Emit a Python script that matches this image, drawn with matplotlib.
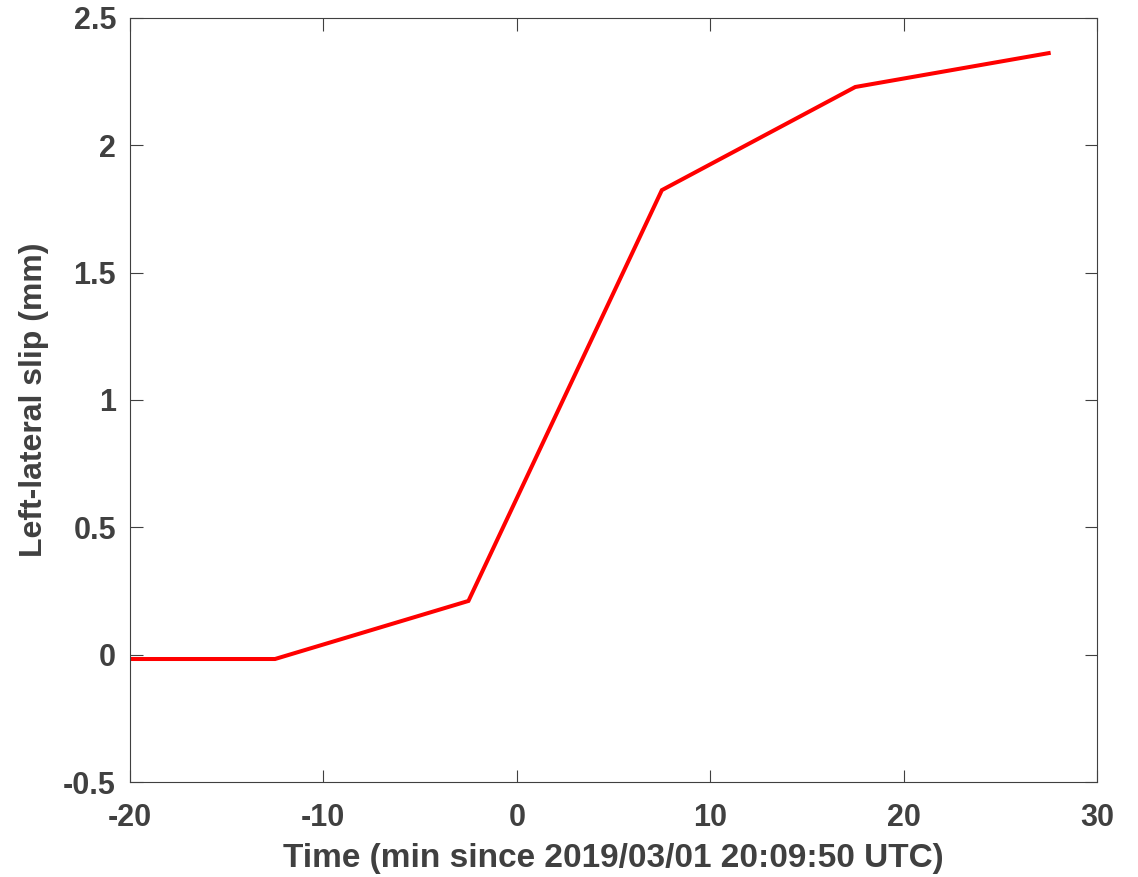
import matplotlib.pyplot as plt

# slip time series (minutes relative to 2019/03/01 20:09:50 UTC)
t_min = [-20, -12.5, -2.5, 7.5, 17.5, 27.5]
slip_mm = [-0.017, -0.017, 0.211, 1.824, 2.229, 2.362]

xticks = [-20, -10, 0, 10, 20, 30]
yticks = [-0.5, 0, 0.5, 1, 1.5, 2, 2.5]
ytick_labels = ['-0.5', '0', '0.5', '1', '1.5', '2', '2.5']

plt.rcParams['font.family'] = ['Liberation Sans', 'DejaVu Sans']
plt.rcParams['font.weight'] = 'bold'
gray = '#404040'

fig = plt.figure(figsize=(11.38, 8.77), dpi=100)
ax = fig.add_axes([0.1142, 0.1083, 0.8498, 0.8712])

ax.plot(t_min, slip_mm, color='red', linewidth=2.9, solid_joinstyle='miter')

ax.set_xlim(-20, 30)
ax.set_ylim(-0.5, 2.5)
ax.set_xticks(xticks)
ax.set_xticklabels([str(v) for v in xticks])
ax.set_yticks(yticks)
ax.set_yticklabels(ytick_labels)

ax.tick_params(direction='in', top=True, right=True, length=9, width=0.8,
               color=gray, labelcolor=gray, labelsize=22)
ax.tick_params(axis='y', pad=10)
ax.tick_params(axis='x', pad=15)
for s in ax.spines.values():
    s.set_color(gray)
    s.set_linewidth(0.8)

ax.set_xlabel('Time (min since 2019/03/01 20:09:50 UTC)', fontsize=24,
              fontweight='bold', color=gray, labelpad=7)
ax.set_ylabel('Left-lateral slip (mm)', fontsize=23, fontweight='bold',
              color=gray, labelpad=10)

fig.savefig('out.png', dpi=100)
